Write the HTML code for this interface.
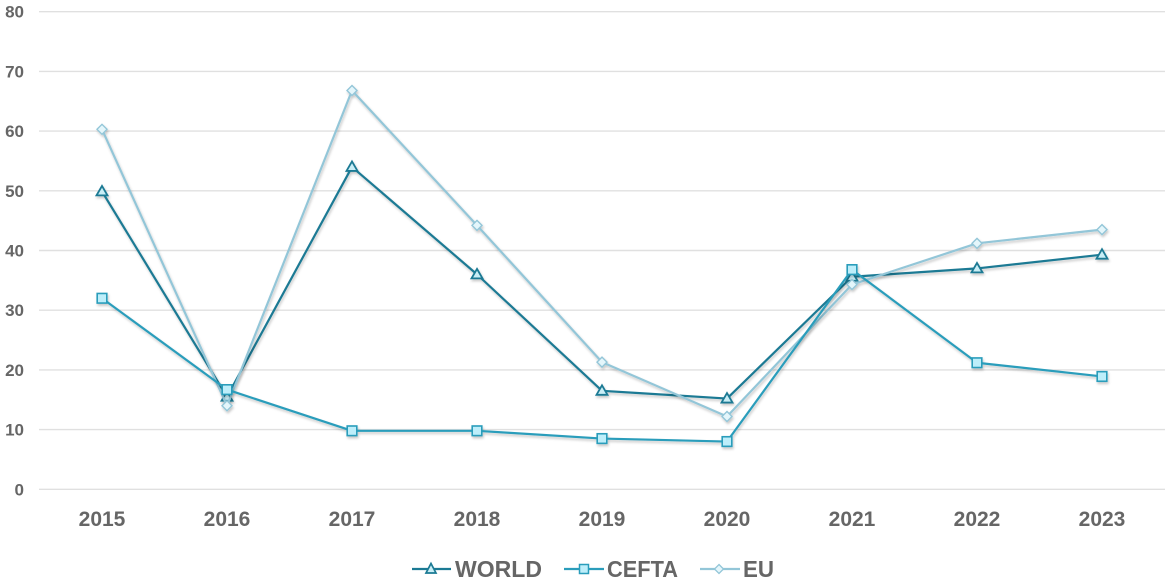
<!DOCTYPE html>
<html lang="en">
<head>
<meta charset="utf-8">
<title>WORLD, CEFTA and EU line chart</title>
<style>
html,body{margin:0;padding:0;background:#fff;width:1170px;height:583px;overflow:hidden}
svg{display:block}
text{font-family:"Liberation Sans",sans-serif;font-weight:bold;fill:#666}
</style>
</head>
<body>
<svg id="chart" width="1170" height="583" viewBox="0 0 1170 583" xmlns="http://www.w3.org/2000/svg">
<defs>
<filter id="shadow" x="-10%" y="-10%" width="120%" height="120%">
<feDropShadow dx="1" dy="2" stdDeviation="1.2" flood-color="#000" flood-opacity="0.22"/>
</filter>
</defs>
</svg>
<script>
const categories = ['2015','2016','2017','2018','2019','2020','2021','2022','2023'];
const yTicks = [0,10,20,30,40,50,60,70,80];
const worldValues = [49.9,15.5,54,36,16.5,15.2,35.6,37,39.3];
const ceftaValues = [32,16.7,9.8,9.8,8.5,8,36.8,21.2,18.9];
const euValues = [60.3,14,66.8,44.2,21.3,12.2,34.3,41.2,43.5];

const NS = 'http://www.w3.org/2000/svg';
const svg = document.getElementById('chart');
function xScale(i){ return 102 + i * 125; }
function yScale(v){ return 489.3 - v * 5.97; }
function make(tag, attrs, parent){
  const el = document.createElementNS(NS, tag);
  for (const k in attrs) el.setAttribute(k, attrs[k]);
  (parent || svg).appendChild(el);
  return el;
}
function drawMarker(kind, cx, cy, color, fill, parent){
  if (kind === 'triangle') {
    return make('polygon', {points:`${cx},${cy-5.5} ${cx+5.5},${cy+4} ${cx-5.5},${cy+4}`, fill:fill, stroke:color, 'stroke-width':1.8}, parent);
  }
  if (kind === 'square') {
    return make('rect', {x:cx-4.8, y:cy-4.8, width:9.6, height:9.6, fill:fill, stroke:color, 'stroke-width':1.6}, parent);
  }
  return make('polygon', {points:`${cx},${cy-5} ${cx+5},${cy} ${cx},${cy+5} ${cx-5},${cy}`, fill:fill, stroke:color, 'stroke-width':1.4}, parent);
}

yTicks.forEach(function(t){
  const line = make('line', {x1:39, x2:1165, y1:yScale(t), y2:yScale(t), stroke:'#e0e0e0', 'stroke-width':1.4});
  
  
  const label = make('text', {x:24, y:yScale(t)+6, 'text-anchor':'end', 'font-size':17});
  label.textContent = t;
  
  
});

categories.forEach(function(c, i){
  const label = make('text', {x:xScale(i), y:526, 'text-anchor':'middle', 'font-size':21});
  label.textContent = c;
  
  
});

const worldGroup = make('g', {filter:'url(#shadow)'});


const euGroup = make('g', {filter:'url(#shadow)'});


const ceftaGroup = make('g', {filter:'url(#shadow)'});



function drawSeries(group, values, color, kind, fill){
  const pts = values.map(function(v, i){ return xScale(i) + ',' + yScale(v); }).join(' ');
  const line = make('polyline', {points:pts, fill:'none', stroke:color, 'stroke-width':2.2, 'stroke-linejoin':'round'}, group);
  
  
  values.forEach(function(v, i){
    const m = drawMarker(kind, xScale(i), yScale(v), color, fill, group);
    
    
  });
}
drawSeries(worldGroup, worldValues, '#1b7a94', 'triangle', '#c9eef6');
drawSeries(euGroup, euValues, '#93c6d8', 'diamond', '#e4f6fb');
drawSeries(ceftaGroup, ceftaValues, '#2a9dbb', 'square', '#bdeefa');
</script>
<svg style="position:absolute;left:0;top:0" width="1170" height="583" viewBox="0 0 1170 583" xmlns="http://www.w3.org/2000/svg">
  <g>
    <line x1="412" x2="451" y1="569" y2="569" stroke="#1b7a94" stroke-width="2.2"/>
    <polygon points="431,563.5 436,573 426,573" fill="#c9eef6" stroke="#1b7a94" stroke-width="1.7"/>
    <text x="455" y="577" font-size="23" textLength="87" lengthAdjust="spacingAndGlyphs">WORLD</text>
  </g>
  <g>
    <line x1="564" x2="604" y1="569" y2="569" stroke="#2a9dbb" stroke-width="2.2"/>
    <rect x="579.5" y="564.5" width="9" height="9" fill="#bdeefa" stroke="#2a9dbb" stroke-width="1.5"/>
    <text x="607" y="577" font-size="23" textLength="71" lengthAdjust="spacingAndGlyphs">CEFTA</text>
  </g>
  <g>
    <line x1="700" x2="740" y1="569" y2="569" stroke="#93c6d8" stroke-width="2.2"/>
    <polygon points="719,564.5 723.5,569 719,573.5 714.5,569" fill="#e4f6fb" stroke="#93c6d8" stroke-width="1.3"/>
    <text x="743" y="577" font-size="23" textLength="31" lengthAdjust="spacingAndGlyphs">EU</text>
  </g>
</svg>
</body>
</html>
